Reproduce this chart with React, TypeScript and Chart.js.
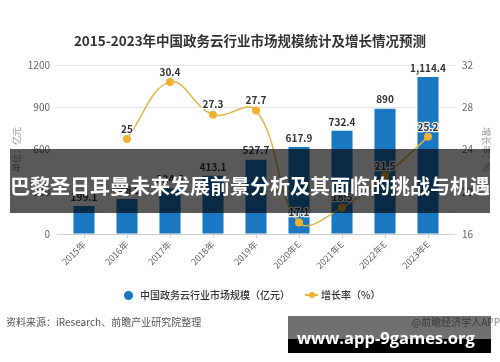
import React, { useEffect, useRef } from "react";
import { Chart, registerables } from "chart.js";

Chart.register(...registerables);

const categories = ["2015年", "2016年", "2017年", "2018年", "2019年", "2020年E", "2021年E", "2022年E", "2023年E"];
const marketSize = [199.1, 248.9, 324.6, 413.1, 527.7, 617.9, 732.4, 890, 1114.4];
const growthRate = [null, 25, 30.4, 27.3, 27.7, 17.1, 18.5, 21.5, 25.2];

const titleText = "2015-2023年中国政务云行业市场规模统计及增长情况预测";
const barLegend = "中国政务云行业市场规模（亿元）";
const lineLegend = "增长率（%）";
const leftTitle = "单位：亿元";
const rightTitle = "增长率：%";
const sourceText = "资料来源：iResearch、前瞻产业研究院整理";
const creditText = "@前瞻经济学人APP";
const bannerText = "巴黎圣日耳曼未来发展前景分析及其面临的挑战与机遇";
const watermarkText = "www.app-9games.org";

const BLUE = "#1a78c2";
const GOLD_LINE = "#e2b54a";
const GOLD_POINT = "#efb132";
const FONT = '"Noto Sans CJK SC", "Noto Sans", sans-serif';

const labelPlugin = {
  id: "valueLabels",
  afterDatasetsDraw(chart: any) {
    const ctx = chart.ctx;
    ctx.save();
    ctx.font = `bold 10px ${FONT}`;
    ctx.textAlign = "center";
    ctx.textBaseline = "middle";
    ctx.lineJoin = "round";
    ctx.lineWidth = 2.5;
    ctx.strokeStyle = "rgba(255,255,255,0.9)";
    ctx.fillStyle = "#333";
    chart.data.datasets.forEach((ds: any, i: number) => {
      const meta = chart.getDatasetMeta(i);
      meta.data.forEach((el: any, j: number) => {
        const v = ds.data[j];
        if (v == null) return;
        const text = Number(v).toLocaleString("en-US");
        const y = meta.type === "bar" ? el.y - 9 : el.y - 10;
        ctx.strokeText(text, el.x, y);
        ctx.fillText(text, el.x, y);
      });
    });
    ctx.restore();
  },
};

export default function App() {
  const canvasRef = useRef<HTMLCanvasElement | null>(null);

  useEffect(() => {
    document.body.style.margin = "0";
    const canvas = canvasRef.current;
    if (!canvas) return;
    const chart = new Chart(canvas, {
      type: "bar",
      data: {
        labels: categories,
        datasets: [
          {
            type: "line",
            label: lineLegend,
            data: growthRate,
            yAxisID: "y1",
            borderColor: GOLD_LINE,
            backgroundColor: GOLD_POINT,
            borderWidth: 1.5,
            pointRadius: 4,
            pointBorderWidth: 0,
            pointBackgroundColor: GOLD_POINT,
            tension: 0.4,
            order: 0,
          } as any,
          {
            type: "bar",
            label: barLegend,
            data: marketSize,
            yAxisID: "y",
            backgroundColor: BLUE,
            barPercentage: 0.49,
            categoryPercentage: 1,
            order: 1,
          } as any,
        ],
      },
      options: {
        animation: false,
        responsive: false,
        maintainAspectRatio: false,
        layout: { padding: { top: 65, left: 0, right: 0, bottom: 78 } },
        plugins: {
          legend: { display: false },
          title: { display: false },
          tooltip: { enabled: false },
        },
        scales: {
          x: {
            grid: {
              offset: false,
              drawOnChartArea: false,
              drawTicks: true,
              tickLength: 4,
              color: "#cccccc",
            },
            border: { color: "#cccccc" },
            ticks: {
              minRotation: 45,
              maxRotation: 45,
              padding: 1,
              color: "#666",
              font: { size: 9, family: FONT },
            },
            afterFit: (s: any) => {
              s.height = 50;
            },
          },
          y: {
            position: "left",
            min: 0,
            max: 1200,
            ticks: {
              stepSize: 300,
              padding: 5.5,
              color: "#666",
              font: { size: 10, family: FONT },
              callback: (v: any) => String(v),
            },
            grid: { color: "#e6e6e6", tickColor: "#e6e6e6", drawTicks: true, tickLength: 7 },
            border: { display: false },
            title: {
              display: true,
              text: leftTitle,
              color: "#999",
              font: { size: 9, family: FONT },
              padding: { top: 11.5, bottom: 0 },
            },
            afterFit: (s: any) => {
              s.width = 62.5;
            },
          },
          y1: {
            position: "right",
            min: 16,
            max: 32,
            ticks: {
              stepSize: 4,
              padding: 5.5,
              color: "#666",
              font: { size: 10, family: FONT },
              callback: (v: any) => String(v),
            },
            grid: {
              drawOnChartArea: false,
              drawTicks: true,
              tickLength: 7,
              color: "#e6e6e6",
              tickColor: "#e6e6e6",
            },
            border: { display: false },
            title: {
              display: true,
              text: rightTitle,
              color: "#999",
              font: { size: 9, family: FONT },
              padding: { top: 8.5, bottom: 0 },
            },
            afterFit: (s: any) => {
              s.width = 50.5;
            },
          },
        },
      },
      plugins: [labelPlugin],
    });
    return () => chart.destroy();
  }, []);

  const abs = (style: React.CSSProperties): React.CSSProperties => ({
    position: "absolute",
    whiteSpace: "nowrap",
    fontFamily: FONT,
    ...style,
  });

  return (
    <div style={{ position: "relative", width: 500, height: 362, background: "#fff", overflow: "hidden" }}>
      <canvas ref={canvasRef} width={500} height={362} style={{ position: "absolute", left: 0, top: 0, width: 500, height: 362 }} />
      <div style={abs({ left: 0, width: 500, top: 31, lineHeight: "18px", textAlign: "center", fontSize: 13.5, fontWeight: 700, color: "#333" })}>
        {titleText}
      </div>
      {/* legend */}
      <div style={abs({ left: 123.5, top: 290.5, width: 9, height: 9, borderRadius: "50%", background: BLUE })} />
      <div style={abs({ left: 140, top: 288, lineHeight: "14px", fontSize: 10, color: "#333", fontWeight: 500 })}>{barLegend}</div>
      <div style={abs({ left: 305, top: 294, width: 13, height: 1.5, background: GOLD_LINE })} />
      <div style={abs({ left: 308.5, top: 292, width: 6, height: 6, borderRadius: "50%", background: GOLD_POINT })} />
      <div style={abs({ left: 321, top: 288, lineHeight: "14px", fontSize: 10, color: "#333", fontWeight: 500 })}>{lineLegend}</div>
      {/* source */}
      <div style={abs({ left: 6, top: 315, lineHeight: "14px", fontSize: 10, color: "#555" })}>{sourceText}</div>
      <div style={abs({ right: 0, top: 315, lineHeight: "14px", fontSize: 10, color: "#888" })}>{creditText}</div>
      {/* banner overlay */}
      <div style={abs({ left: 10, top: 149, width: 480, height: 64, background: "rgba(0,0,0,0.65)" })} />
      <div style={abs({ left: 10, width: 480, top: 172, lineHeight: "28px", textAlign: "center", fontSize: 20, fontWeight: 700, color: "#fff" })}>
        {bannerText}
      </div>
      {/* watermark */}
      <div style={abs({ left: 288, top: 316, width: 203, height: 23, background: "rgba(0,0,0,0.56)" })} />
      <div style={abs({ left: 288, top: 339, width: 203, height: 14, background: "#000" })} />
      <div style={abs({ left: 297, top: 328, lineHeight: "20px", fontSize: 16.5, fontWeight: 700, color: "#fff", fontFamily: '"Open Sans", "DejaVu Sans", sans-serif' })}>
        {watermarkText}
      </div>
    </div>
  );
}
